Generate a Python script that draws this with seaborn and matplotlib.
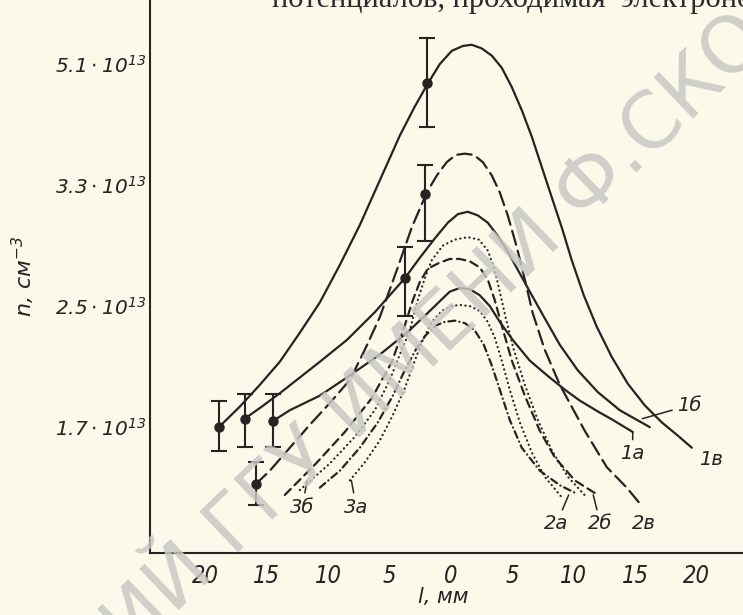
import matplotlib
matplotlib.use("Agg")
import matplotlib.pyplot as plt
import seaborn as sns

# === Estilo
sns.set_theme(style="white")
plt.rcParams["font.family"] = ["DejaVu Sans"]
plt.rcParams["mathtext.fontset"] = "custom"
plt.rcParams["mathtext.rm"] = "DejaVu Sans:italic"
plt.rcParams["mathtext.it"] = "DejaVu Sans:italic"

INK = "#262422"
PAPER = "#fbf9ea"

# === Dados (l em mm; n em unidades da escala do eixo: 0 = 1.7e13, 1 = 2.5e13, 2 = 3.3e13, 3 = 5.1e13)
y_ticks = [0, 1, 2, 3]
y_tick_labels = [r"$1.7\cdot10^{13}$", r"$2.5\cdot10^{13}$", r"$3.3\cdot10^{13}$", r"$5.1\cdot10^{13}$"]
x_ticks = [-20, -15, -10, -5, 0, 5, 10, 15, 20]
x_tick_labels = ["20", "15", "10", "5", "0", "5", "10", "15", "20"]

l_1v = [-18.89, -17.18, -15.55, -13.93, -12.30, -10.67, -9.04, -7.41, -5.78, -4.15,
        -2.93, -1.87, -0.90, 0.08, 0.98, 1.71, 2.52, 3.34, 4.15, 4.97,
        5.78, 6.60, 7.41, 8.22, 9.04, 9.85, 10.83, 11.89, 13.11, 14.41,
        15.80, 17.18, 18.49, 19.63]
n_1v = [0.00, 0.17, 0.35, 0.54, 0.78, 1.03, 1.34, 1.67, 2.04, 2.41,
        2.65, 2.84, 3.00, 3.11, 3.15, 3.16, 3.13, 3.07, 2.97, 2.81,
        2.62, 2.40, 2.15, 1.90, 1.65, 1.38, 1.09, 0.83, 0.58, 0.36,
        0.18, 0.04, -0.07, -0.17]

l_1b = [-16.78, -15.39, -13.93, -12.30, -10.67, -8.47, -6.19, -3.75, -2.52, -1.30,
        -0.24, 0.57, 1.38, 2.20, 3.01, 3.83, 4.64, 5.62, 6.60, 7.65,
        8.88, 10.34, 11.97, 13.76, 16.21]
n_1b = [0.07, 0.17, 0.28, 0.41, 0.54, 0.72, 0.95, 1.23, 1.40, 1.56,
        1.69, 1.76, 1.78, 1.75, 1.69, 1.58, 1.45, 1.27, 1.09, 0.90,
        0.68, 0.47, 0.29, 0.14, 0.00]

l_1a = [-14.50, -13.11, -10.67, -8.47, -5.78, -3.58, -2.12, -0.90, -0.08, 0.73,
        1.55, 2.36, 3.18, 3.99, 5.05, 6.43, 7.82, 9.28, 10.50, 11.97,
        13.19, 14.82]
n_1a = [0.05, 0.14, 0.26, 0.41, 0.60, 0.78, 0.92, 1.04, 1.12, 1.15,
        1.14, 1.09, 1.00, 0.87, 0.72, 0.55, 0.43, 0.31, 0.22, 0.13,
        0.06, -0.04]

l_2v = [-15.88, -14.74, -13.11, -11.48, -9.85, -8.22, -7.00, -5.78, -4.32, -3.18,
        -1.95, -1.14, -0.33, 0.41, 1.14, 1.87, 2.61, 3.34, 3.99, 4.64,
        5.37, 6.03, 6.68, 7.65, 8.88, 10.91, 12.70, 14.33, 15.55]
n_2v = [-0.47, -0.36, -0.17, 0.02, 0.20, 0.39, 0.64, 0.91, 1.32, 1.65,
        1.94, 2.08, 2.19, 2.25, 2.26, 2.25, 2.19, 2.08, 1.94, 1.75,
        1.49, 1.22, 0.94, 0.64, 0.35, -0.03, -0.33, -0.50, -0.65]

l_2a = [-12.30, -9.85, -7.82, -6.19, -4.97, -4.15, -3.34, -2.69, -2.12, -1.55,
        -0.65, 0.33, 1.38, 2.28, 3.01, 3.58, 3.99, 4.48, 5.13, 6.03,
        7.08, 8.22, 9.53, 11.07]
n_2a = [-0.52, -0.30, -0.08, 0.14, 0.39, 0.60, 0.80, 1.05, 1.23, 1.38,
        1.50, 1.55, 1.57, 1.55, 1.46, 1.30, 1.12, 0.90, 0.64, 0.35,
        0.06, -0.19, -0.41, -0.58]

l_2b = [-13.52, -11.07, -8.63, -6.43, -4.80, -3.75, -3.09, -2.52, -1.87, -0.90,
        -0.08, 0.73, 1.55, 2.36, 3.01, 3.58, 4.15, 4.97, 6.03, 7.25,
        8.47, 10.10, 11.97]
n_2b = [-0.56, -0.31, -0.04, 0.24, 0.54, 0.84, 1.05, 1.20, 1.31, 1.36,
        1.39, 1.39, 1.37, 1.32, 1.22, 1.05, 0.84, 0.55, 0.26, -0.03,
        -0.25, -0.44, -0.56]

l_3a = [-8.22, -7.00, -5.78, -4.72, -3.75, -2.93, -2.28, -1.55, -0.73, 0.00,
        0.73, 1.55, 2.36, 3.01, 3.58, 4.15, 4.80, 5.62, 6.60, 7.65,
        9.04]
n_3a = [-0.44, -0.29, -0.11, 0.10, 0.32, 0.55, 0.72, 0.87, 0.96, 1.00,
        1.01, 1.00, 0.96, 0.87, 0.74, 0.55, 0.31, 0.04, -0.21, -0.41,
        -0.58]

l_3b = [-10.67, -9.04, -7.41, -5.94, -4.72, -3.75, -2.85, -2.04, -1.22, -0.49,
        0.33, 1.14, 1.95, 2.69, 3.34, 3.99, 4.80, 5.78, 7.25, 8.88,
        10.26]
n_3b = [-0.50, -0.36, -0.17, 0.04, 0.26, 0.47, 0.64, 0.76, 0.84, 0.87,
        0.88, 0.86, 0.80, 0.68, 0.51, 0.31, 0.06, -0.17, -0.36, -0.48,
        -0.55]

# pontos experimentais com barras de erro
pt_l = [-18.9, -16.8, -14.5, -15.9, -3.75, -2.1, -1.9]
pt_n = [0.00, 0.07, 0.05, -0.47, 1.23, 1.93, 2.84]
pt_err_lo = [0.20, 0.23, 0.21, 0.17, 0.31, 0.39, 0.36]
pt_err_hi = [0.22, 0.20, 0.22, 0.18, 0.26, 0.24, 0.38]

# === Figura
fig = plt.figure(figsize=(7.43, 6.15), dpi=100)
fig.patch.set_facecolor(PAPER)
ax = fig.add_axes([150 / 743, 62 / 615, 593 / 743, 553 / 615])
ax.set_facecolor(PAPER)

curvas = [
    (l_1v, n_1v, "-"),
    (l_1b, n_1b, "-"),
    (l_1a, n_1a, "-"),
    (l_2v, n_2v, (0, (6.5, 2.8))),
    (l_2b, n_2b, (0, (3.8, 2.4))),
    (l_2a, n_2a, (0, (0.1, 2.0))),
    (l_3a, n_3a, (0, (0.1, 2.0))),
    (l_3b, n_3b, (0, (3.2, 1.8, 0.1, 1.8))),
]
for xs, ys, ls in curvas:
    sns.lineplot(x=xs, y=ys, ax=ax, sort=False, estimator=None, color=INK,
                 linewidth=1.6, linestyle=ls, dash_capstyle="round",
                 solid_joinstyle="round")

ax.errorbar(pt_l, pt_n, yerr=[pt_err_lo, pt_err_hi], fmt="o", color=INK, ms=6.5,
            capsize=5.5, elinewidth=1.5, capthick=1.5, zorder=5)

# === Rótulos das curvas
lbl = dict(fontsize=14, style="italic", color=INK, ha="center", va="center")
seta = dict(arrowstyle="-", lw=1.1, color=INK, shrinkA=1, shrinkB=0)
ax.annotate("1а", xy=(l_1a[-1], n_1a[-1]), xytext=(14.8, -0.22), arrowprops=seta, **lbl)
ax.annotate("1б", xy=(15.6, 0.07), xytext=(19.4, 0.18), arrowprops=seta, **lbl)
ax.text(21.2, -0.27, "1в", **lbl)
ax.annotate("2а", xy=(9.6, -0.56), xytext=(8.6, -0.80), arrowprops=seta, **lbl)
ax.annotate("2б", xy=(11.6, -0.56), xytext=(12.2, -0.80), arrowprops=seta, **lbl)
ax.text(15.7, -0.80, "2в", **lbl)
ax.annotate("3б", xy=(-11.7, -0.44), xytext=(-12.1, -0.66), arrowprops=seta, **lbl)
ax.annotate("3а", xy=(-8.1, -0.44), xytext=(-7.7, -0.66), arrowprops=seta, **lbl)

# === Eixos
ax.set_xlim(-24.5, 23.8)
ax.set_ylim(-1.04, 3.53)
ax.set_xticks(x_ticks)
ax.set_xticklabels(x_tick_labels, fontsize=17, fontstyle="italic", fontstretch="condensed")
ax.set_yticks(y_ticks)
ax.set_yticklabels(y_tick_labels, fontsize=14.5)
ax.tick_params(axis="both", direction="in", length=6, width=1.3, colors=INK)
ax.tick_params(axis="x", pad=8)
ax.tick_params(axis="y", pad=3)
ax.spines[["top", "right"]].set_visible(False)
for s in ("left", "bottom"):
    ax.spines[s].set_linewidth(1.5)
    ax.spines[s].set_color(INK)

ax.set_xlabel("l, мм", fontsize=15, style="italic", color=INK)
ax.xaxis.set_label_coords(0.494, -0.062)
ax.set_ylabel("n, см$^{-3}$", fontsize=16, style="italic", color=INK)
ax.yaxis.set_label_coords(-0.19, 0.50)

# texto da página cortado no topo e marca d'água
fig.text(272 / 743, 1 - 7 / 615, "потенциалов, проходимая  электроно", fontsize=22,
         family=["Liberation Serif", "DejaVu Serif"], va="baseline", color="#2b2b2b")
fig.text(347 / 743, 1 - 419 / 615, "РЕПОЗИТОРИЙ ГГУ ИМЕНИ Ф.СКОРИНЫ", fontsize=56,
         rotation=43.7, rotation_mode="anchor", ha="center", va="center",
         color="#c8c8c3", alpha=0.85, zorder=10)

fig.savefig("out.png", dpi=100, facecolor=PAPER)
